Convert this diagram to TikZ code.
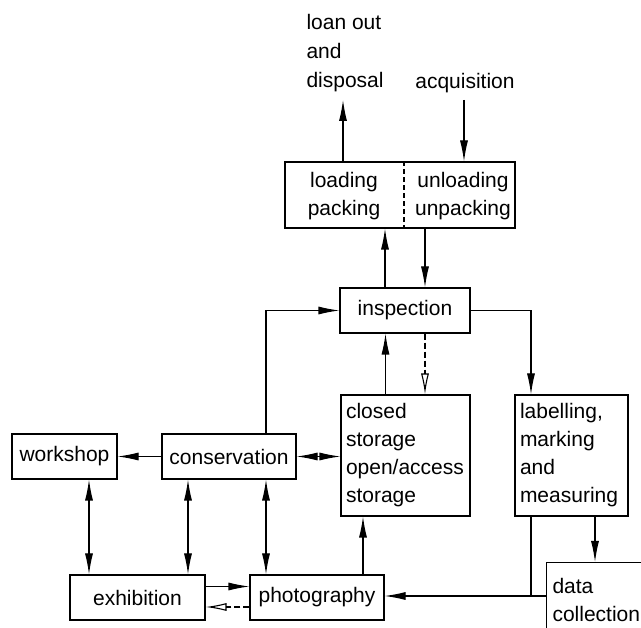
\documentclass[tikz,border=0pt]{standalone}
\usepackage{fontspec}
\setmainfont{Liberation Sans}
\usetikzlibrary{arrows.meta}
\tikzset{every path/.style={line width=1.1pt}, txt/.style={inner sep=0pt, font=\fontsize{21}{28}\selectfont},
 box/.style={draw, line width=1.1pt, rectangle, inner sep=0pt, font=\fontsize{21}{28}\selectfont},
 arr/.style={-{Latex[length=21pt,width=8pt]}}, barr/.style={{Latex[length=21pt,width=8pt]}-{Latex[length=21pt,width=8pt]}},
 darr/.style={dash pattern=on 6pt off 3pt, -{Latex[open,length=21pt,width=8pt]}}}

\begin{document}
\begin{tikzpicture}[x=1pt,y=-1pt]
  \useasboundingbox (0,0) rectangle (641,628);
  % top: loading / unloading
  \node[box,minimum width=230pt,minimum height=66pt] (lp) at (400,195) {};
  \node[txt,align=center] (ld) at (344,196) {loading\\packing};
  \node[txt,align=center] (ul) at (463,196) {unloading\\unpacking};
  \draw[dash pattern=on 5pt off 3pt] ([xshift=4pt]lp.north) -- ([xshift=4pt]lp.south);
  \node[txt,align=left,anchor=west] (loan) at (306,53) {loan out\\[1pt]and\\[1pt]disposal};
  \node[txt] (acq) at (465,83) {acquisition};
  \coordinate (lo) at (343,100);
  \coordinate (aq) at (464,100);
  % boxes
  \node[box,minimum width=130pt,minimum height=45pt] (insp) at (405,310.5) {inspection};
  \node[box,minimum width=129pt,minimum height=121pt,text width=119pt,align=left] (cs) at (405.5,455.5) {closed\\storage\\open/access\\storage};
  \node[box,minimum width=113pt,minimum height=121pt,text width=103pt,align=left] (lab) at (571.5,455.5) {labelling,\\marking\\and\\measuring};
  \node[box,minimum width=105pt,minimum height=45pt] (ws) at (64.5,456.5) {workshop};
  \node[box,minimum width=134pt,minimum height=45pt] (cons) at (229,456.5) {conservation};
  \node[box,minimum width=135pt,minimum height=45pt] (exh) at (137.5,597.5) {exhibition};
  \node[box,minimum width=134pt,minimum height=45pt] (ph) at (317,597.5) {photography};
  \node[box,minimum width=106pt,minimum height=74pt,text width=94pt,align=left,anchor=north west] (dc) at (546,562) {data\\collection};
  \coordinate (jn) at ([xshift=-40.5pt]lab.south);
  % connectors
  \draw[arr] (lp.north -| lo) -- (lo);
  \draw[arr] (aq) -- (lp.north -| aq);
  \draw[arr] ([xshift=-20pt]insp.north) -- ([xshift=-20pt]insp.north |- lp.south);
  \draw[arr] ([xshift=20pt]insp.north |- lp.south) -- ([xshift=20pt]insp.north);
  \draw[arr] ([xshift=-20pt]cs.north) -- ([xshift=-20pt]cs.north |- insp.south);
  \draw[darr] ([xshift=20pt]insp.south) -- ([xshift=20pt]insp.south |- cs.north);
  \draw[arr] (insp.east) -| (lab.north -| jn);
  \draw[arr] ([xshift=37pt]cons.north) |- (insp.west);
  \draw[arr] (cons.west) -- (ws.east);
  \draw[barr] (cons.east) -- (cons.east -| cs.west);
  \draw[barr] ([xshift=24.5pt]ws.south) -- ([xshift=24.5pt]ws.south |- exh.north);
  \draw[barr] ([xshift=-41pt]cons.south) -- ([xshift=-41pt]cons.south |- exh.north);
  \draw[barr] ([xshift=37pt]cons.south) -- ([xshift=37pt]cons.south |- ph.north);
  \draw[arr] ([yshift=11pt]exh.east) -- ([yshift=11pt]exh.east -| ph.west);
  \draw[darr] ([yshift=-9.5pt]ph.west) -- ([yshift=-9.5pt]ph.west -| exh.east);
  \draw[arr] ([xshift=46pt]ph.north) -- ([xshift=46pt]ph.north |- cs.south);
  \draw[arr] ([xshift=23.5pt]lab.south) -- ([xshift=23.5pt]lab.south |- dc.north);
  \draw[arr] (jn) |- ([yshift=1.5pt]ph.east);
  \draw ([yshift=1.5pt]ph.east -| dc.west) -- ([yshift=1.5pt]ph.east -| jn);
\end{tikzpicture}
\end{document}
